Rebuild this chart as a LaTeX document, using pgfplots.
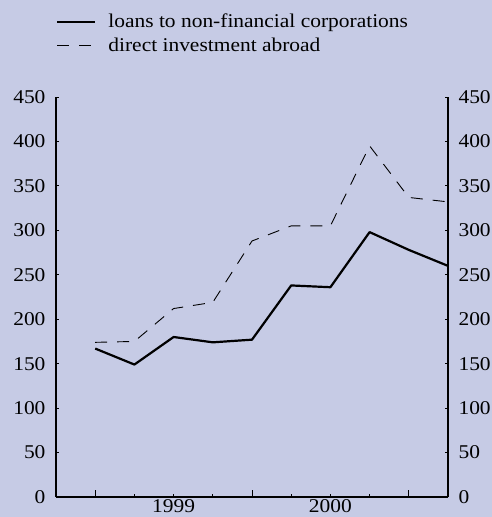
\documentclass[border=0pt]{standalone}
\usepackage{pgfplots}
\pgfplotsset{compat=1.18}
\usepackage{fontspec}
\setmainfont{Liberation Serif}[FakeStretch=1.1]
\definecolor{bg}{RGB}{198,203,229}
\newcommand{\tfont}{\fontsize{19.5}{23}\selectfont}
\begin{document}
\begin{tikzpicture}
\fill[bg] (0,0) rectangle (492pt,517pt);
\path[use as bounding box] (0,0) rectangle (492pt,517pt);
\begin{axis}[
  at={(56pt,20pt)}, anchor=south west,
  scale only axis, width=392pt, height=400pt,
  xmin=0, xmax=10, ymin=0, ymax=450,
  axis x line=bottom, axis y line=left,
  axis line style={-, line width=1.1pt, black},
  tick align=inside,
  tick style={line width=0.8pt, black},
  major tick length=3pt, minor tick length=3pt,
  ytick={0,50,...,450},
  xtick={3,7}, xticklabels={1999,2000},
  minor xtick={2,4,6,8,10},
  extra x ticks={1,5,9}, extra x tick labels={},
  extra x tick style={major tick length=7pt},
  /pgf/number format/assume math mode=true,
  tick label style={font=\tfont},
  yticklabel style={xshift=-7pt},
  xticklabel style={inner sep=0pt, yshift=-2pt},
  legend style={draw=none, fill=none, at={(axis description cs:0.0,1.2125)}, anchor=north west, inner sep=0pt, font=\tfont, row sep=5pt,
    /tikz/every odd column/.append style={column sep=10pt}},
  legend cell align=left,
  legend image code/.code={\draw[#1] (0pt,0pt) -- (38pt,0pt);},
  clip=false,
]
\addplot[black, line width=2.2pt, line join=round] coordinates {
(1,167)(2,149)(3,180)(4,174)(5,177)(6,238)(7,236)(8,298)(9,278)(10,260)};
\addlegendentry{loans to non-financial corporations}
\addplot[black, line width=0.9pt, dash pattern=on 12pt off 10pt] coordinates {
(1,174)(2,175)(3,212)(4,219)(5,288)(6,305)(7,305)(8,395)(9,337)(10,332)};
\addlegendentry{direct investment abroad}
\end{axis}
\begin{axis}[
  at={(56pt,20pt)}, anchor=south west,
  scale only axis, width=392pt, height=400pt,
  xmin=0, xmax=10, ymin=0, ymax=450,
  axis x line=none, axis y line=right,
  axis line style={-, line width=1.1pt, black},
  tick align=inside,
  tick style={line width=0.8pt, black},
  major tick length=3pt,
  ytick={0,50,...,450},
  /pgf/number format/assume math mode=true,
  tick label style={font=\tfont},
  yticklabel style={xshift=7pt},
]
\addplot[draw=none] coordinates {(1,0)};
\end{axis}
\end{tikzpicture}
\end{document}
